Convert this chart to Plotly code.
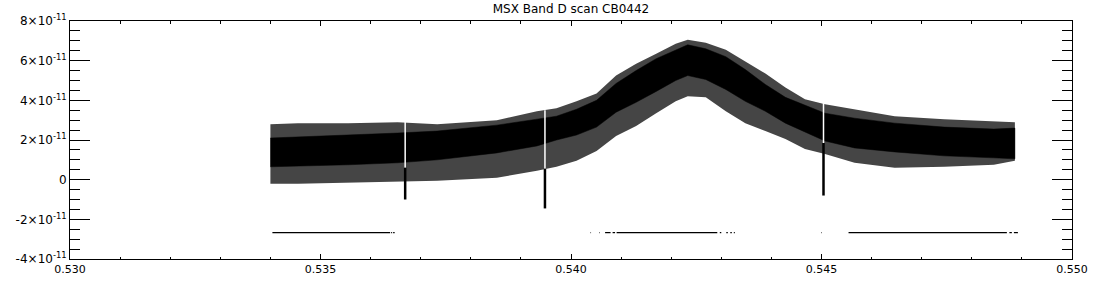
import plotly.graph_objects as go

# ---------------- data ----------------
band_x = [0.53400, 0.53455, 0.53555, 0.53654, 0.53733, 0.53852, 0.53932, 0.53971,
          0.54011, 0.54051, 0.54090, 0.54130, 0.54170, 0.54209, 0.54233, 0.54269,
          0.54309, 0.54348, 0.54388, 0.54428, 0.54467, 0.54507, 0.54566, 0.54646,
          0.54745, 0.54844, 0.54886]
# dense core of the scan (upper / lower edge)
core_top = [2.10e-11, 2.15e-11, 2.25e-11, 2.35e-11, 2.45e-11, 2.75e-11, 3.05e-11, 3.20e-11,
            3.55e-11, 4.00e-11, 4.85e-11, 5.50e-11, 6.10e-11, 6.55e-11, 6.80e-11, 6.60e-11,
            6.20e-11, 5.55e-11, 4.80e-11, 4.15e-11, 3.75e-11, 3.35e-11, 3.10e-11, 2.85e-11,
            2.65e-11, 2.55e-11, 2.60e-11]
core_bottom = [0.65e-11, 0.70e-11, 0.75e-11, 0.85e-11, 1.00e-11, 1.35e-11, 1.70e-11, 2.00e-11,
               2.25e-11, 2.65e-11, 3.40e-11, 3.90e-11, 4.45e-11, 5.00e-11, 5.25e-11, 5.05e-11,
               4.55e-11, 3.95e-11, 3.45e-11, 2.85e-11, 2.40e-11, 1.95e-11, 1.60e-11, 1.40e-11,
               1.20e-11, 1.10e-11, 1.05e-11]
# sparse scatter around the core (upper / lower edge)
fringe_top = [2.80e-11, 2.85e-11, 2.85e-11, 2.90e-11, 2.80e-11, 3.00e-11, 3.45e-11, 3.60e-11,
              3.95e-11, 4.35e-11, 5.25e-11, 5.85e-11, 6.35e-11, 6.85e-11, 7.05e-11, 6.90e-11,
              6.55e-11, 5.95e-11, 5.35e-11, 4.65e-11, 4.05e-11, 3.80e-11, 3.55e-11, 3.20e-11,
              3.05e-11, 2.95e-11, 2.90e-11]
fringe_bottom = [-0.20e-11, -0.20e-11, -0.15e-11, -0.10e-11, -0.05e-11, 0.10e-11, 0.45e-11, 0.65e-11,
                 0.95e-11, 1.45e-11, 2.20e-11, 2.70e-11, 3.35e-11, 3.95e-11, 4.20e-11, 4.15e-11,
                 3.45e-11, 2.85e-11, 2.45e-11, 2.05e-11, 1.55e-11, 1.30e-11, 0.85e-11, 0.60e-11,
                 0.65e-11, 0.75e-11, 0.95e-11]

# glitches: white gap through the band and a downward spike below it
glitch_x = [0.53669, 0.53948, 0.54504]
glitch_gap_top = [2.95e-11, 3.50e-11, 4.10e-11]
glitch_gap_bottom = [0.60e-11, 0.55e-11, 1.85e-11]
glitch_spike_bottom = [-1.00e-11, -1.45e-11, -0.80e-11]

# flag line segments (start, end) at a constant level
flag_level = -2.67e-11
flag_start = [0.53404, 0.53641, 0.53645, 0.54039, 0.54056, 0.54068, 0.54083, 0.54091,
              0.54297, 0.54310, 0.54318, 0.54325, 0.54500, 0.54554, 0.54875, 0.54884]
flag_end = [0.53639, 0.53643, 0.53648, 0.54040, 0.54057, 0.54079, 0.54088, 0.54292,
            0.54300, 0.54313, 0.54321, 0.54327, 0.54501, 0.54870, 0.54880, 0.54892]

x_tickvals = [0.530, 0.535, 0.540, 0.545, 0.550]
x_ticktext = ["0.530", "0.535", "0.540", "0.545", "0.550"]
y_tickvals = [-4e-11, -2e-11, 0, 2e-11, 4e-11, 6e-11, 8e-11]
y_ticktext = ["-4×10<sup>-11</sup>", "-2×10<sup>-11</sup>", "0", "2×10<sup>-11</sup>",
              "4×10<sup>-11</sup>", "6×10<sup>-11</sup>", "8×10<sup>-11</sup>"]
title_text = "MSX Band D scan CB0442"

# ---------------- figure ----------------
fig = go.Figure()

# speckled fringe
fig.add_trace(go.Scatter(
    x=band_x + band_x[::-1], y=fringe_top + fringe_bottom[::-1],
    fill="toself", mode="lines", line=dict(width=0, color="#454545"),
    fillcolor="#454545",
    hoverinfo="skip", showlegend=False))

# dense core
fig.add_trace(go.Scatter(
    x=band_x + band_x[::-1], y=core_top + core_bottom[::-1],
    fill="toself", mode="lines", line=dict(width=0.5, color="black"),
    fillcolor="black", hoverinfo="skip", showlegend=False))

# glitch gaps (white)
gx, gy = [], []
for x, t, b in zip(glitch_x, glitch_gap_top, glitch_gap_bottom):
    gx += [x, x, None]
    gy += [t, b, None]
fig.add_trace(go.Scatter(x=gx, y=gy, mode="lines", line=dict(color="white", width=1.5),
                         hoverinfo="skip", showlegend=False))

# glitch spikes (black)
sx, sy = [], []
for x, b, s in zip(glitch_x, glitch_gap_bottom, glitch_spike_bottom):
    sx += [x, x, None]
    sy += [b, s, None]
fig.add_trace(go.Scatter(x=sx, y=sy, mode="lines", line=dict(color="black", width=2.5),
                         hoverinfo="skip", showlegend=False))

# flag line
fx, fy = [], []
for a, b in zip(flag_start, flag_end):
    fx += [a, b, None]
    fy += [flag_level, flag_level, None]
fig.add_trace(go.Scatter(x=fx, y=fy, mode="lines", line=dict(color="black", width=1.2),
                         hoverinfo="skip", showlegend=False))

tick_font = dict(family="DejaVu Sans", size=11, color="black")

fig.update_layout(
    width=1100, height=300,
    margin=dict(l=70, r=21, t=19, b=41),
    paper_bgcolor="white", plot_bgcolor="white",
    font=tick_font,
    title=dict(text=title_text, x=0.5, xref="paper", xanchor="center",
               y=1 - 9 / 300, yref="container", yanchor="middle",
               font=dict(family="DejaVu Sans", size=12, color="black")),
    xaxis=dict(range=[0.530, 0.550], tickvals=x_tickvals, ticktext=x_ticktext,
               ticks="inside", ticklen=5, tickwidth=1, tickcolor="black",
               showline=True, linecolor="black", linewidth=1, mirror="ticks",
               showgrid=False, zeroline=False,
               minor=dict(dtick=0.001, ticks="inside", ticklen=2.5, tickcolor="black",
                          showgrid=False),
               tickfont=tick_font),
    yaxis=dict(range=[-4e-11, 8e-11], tickvals=y_tickvals, ticktext=y_ticktext,
               ticks="inside", ticklen=20, tickwidth=1, tickcolor="black",
               showline=True, linecolor="black", linewidth=1, mirror="ticks",
               showgrid=False, zeroline=False,
               minor=dict(dtick=0.5e-11, ticks="inside", ticklen=10, tickcolor="black",
                          showgrid=False),
               tickfont=dict(family="DejaVu Sans", size=12, color="black")),
)

fig.write_html("out.html")
